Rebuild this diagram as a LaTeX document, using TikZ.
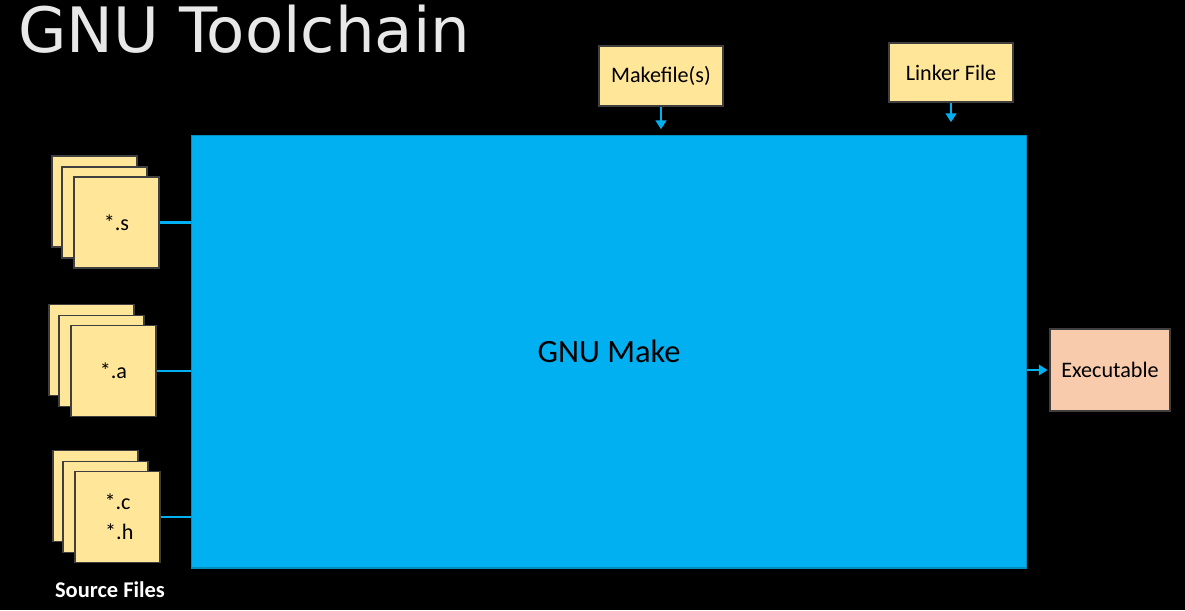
\documentclass[tikz,border=0pt]{standalone}
\usepackage{fontspec}
\setmainfont{Carlito}
\newfontfamily\titlefont{DejaVu Sans}
\usetikzlibrary{arrows.meta}
\definecolor{makeblue}{HTML}{00B0F0}
\definecolor{filegold}{HTML}{FFE699}
\definecolor{exepeach}{HTML}{F8CBAD}
\definecolor{edgegray}{HTML}{3F3F3F}
\definecolor{titlegray}{HTML}{E8E8E8}
\tikzset{
  filebox/.style={draw=edgegray,line width=0.8pt,fill=filegold,font=\fontsize{12.6}{15}\selectfont,align=center,inner sep=0pt},
  sheet/.style={filebox,minimum width=1.7cm,minimum height=1.82cm},
  feed/.style={draw=makeblue,line width=1.2pt},
  flow/.style={feed,-{Triangle[length=5pt,width=6pt]}}
}
\begin{document}
\begin{tikzpicture}[x=0.02cm,y=-0.02cm]

% The background
\fill[black] (0,0) rectangle (1185,610);
\useasboundingbox (0,0) rectangle (1185,610);

\node[anchor=base west,text=titlegray,font=\titlefont\fontsize{35.6}{42}\selectfont,inner sep=0pt] (title) at (18,52) {GNU Toolchain};

% The make box
\node[draw=makeblue!80!black,line width=0.6pt,fill=makeblue,minimum width=16.72cm,minimum height=8.66cm,font=\fontsize{18.5}{22}\selectfont] (main) at (609,351.5) {GNU Make};

% The inputs on top
\node[filebox,minimum width=2.48cm,minimum height=1.2cm] (makefile) at (661,76) {Makefile(s)};
\node[filebox,minimum width=2.48cm,minimum height=1.18cm] (linker) at (951,72.5) {Linker File};
\draw[flow,shorten >=3pt] (makefile.south) -- (makefile.south |- main.north);
\draw[flow,shorten >=7pt] (linker.south) -- (linker.south |- main.north);

% The stacks of source files
\foreach \name/\x/\y/\txt in {srcS/116.5/222.5/{*.s}, srcA/113.5/371/{*.a}, srcC/117.5/517/{*.c\\[2pt]\,*.h}}{
  \node[sheet] at (\x-22,\y-21) {};
  \node[sheet] at (\x-12,\y-10) {};
  \node[sheet] (\name) at (\x,\y) {\txt};
}
\draw[feed] (srcS.east) -- (srcS.east -| main.west);
\draw[feed] (srcA.east) -- (srcA.east -| main.west);
\draw[feed] (srcC.east) -- (srcC.east -| main.west);
\node[text=white,font=\bfseries\fontsize{12.8}{15}\selectfont] (srclabel) at (110,590) {Source Files};

% The result
\node[draw=edgegray,line width=0.8pt,fill=exepeach,minimum width=2.4cm,minimum height=1.64cm,font=\fontsize{12.6}{15}\selectfont] (exe) at (1110,370) {Executable};
\draw[flow,shorten >=1pt] (main.east |- exe.west) -- (exe.west);

\end{tikzpicture}
\end{document}
